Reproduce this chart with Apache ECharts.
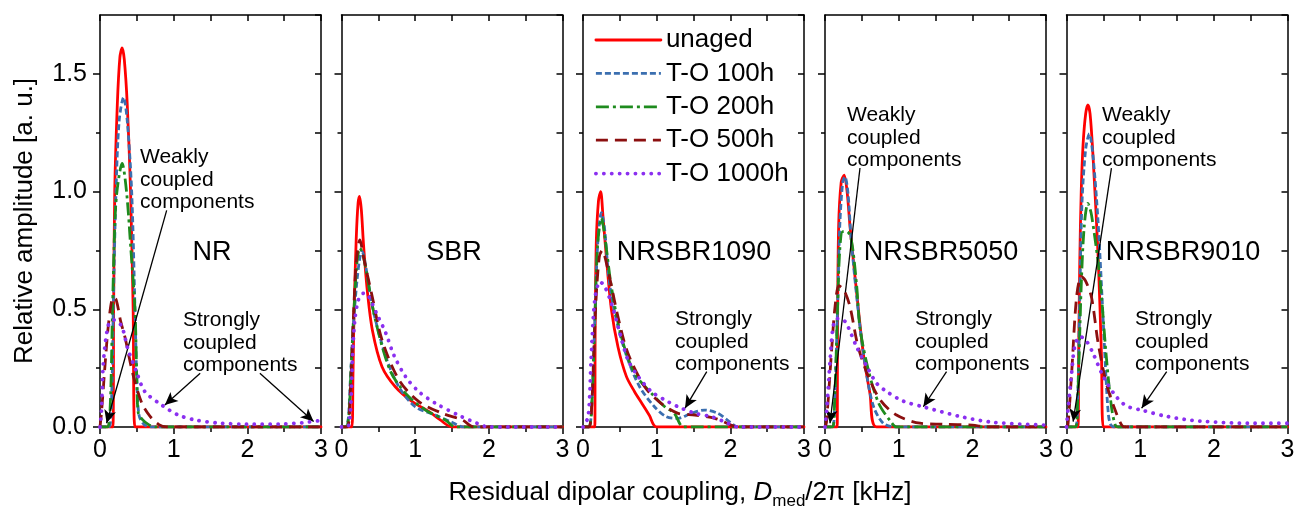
<!DOCTYPE html>
<html><head><meta charset="utf-8">
<script src="https://cdn.jsdelivr.net/npm/echarts@6/dist/echarts.min.js"></script>
<style>html,body{margin:0;padding:0;background:#fff}#c{width:1296px;height:516px}</style>
</head><body><div id="c"></div>
<script>
// ---------- data ----------
const panelNames = ['NR', 'SBR', 'NRSBR1090', 'NRSBR5050', 'NRSBR9010'];
const seriesNames = ['unaged', 'T-O 100h', 'T-O 200h', 'T-O 500h', 'T-O 1000h'];
const yLabelTicks = [0, 0.5, 1, 1.5];
const yMinorTicks = [0.25, 0.75, 1.25];

// NR
const nrUnaged = [[0,0],[0.175,0],[0.185,0.5],[0.2,1.0],[0.235,1.37],[0.27,1.57],[0.30,1.61],[0.33,1.56],[0.37,1.37],[0.415,1.0],[0.45,0.5],[0.475,0],[3,0]];
const nr100 = [[0,0],[0.12,0],[0.16,0.15],[0.18,0.5],[0.217,1.0],[0.26,1.3],[0.32,1.40],[0.37,1.3],[0.43,1.0],[0.475,0.5],[0.5,0.2],[0.53,0.05],[0.6,0.01],[0.7,0],[3,0]];
const nr200 = [[0,0],[0.1,0],[0.14,0.1],[0.17,0.5],[0.2,0.85],[0.23,1.0],[0.3,1.12],[0.36,1.0],[0.42,0.75],[0.475,0.5],[0.5,0.2],[0.52,0.06],[0.58,0.03],[0.66,0.01],[0.75,0],[3,0]];
const nr500 = [[0,0],[0.02,0.06],[0.07,0.27],[0.12,0.45],[0.18,0.55],[0.22,0.54],[0.28,0.45],[0.34,0.38],[0.45,0.22],[0.57,0.1],[0.68,0.045],[0.8,0.01],[0.9,0],[3,0]];
const nr1000 = [[0,0],[0.02,0.07],[0.045,0.27],[0.11,0.43],[0.18,0.455],[0.29,0.43],[0.38,0.33],[0.5,0.23],[0.61,0.15],[0.84,0.093],[1.06,0.051],[1.29,0.03],[1.6,0.017],[2.0,0.012],[2.5,0.013],[2.75,0.018],[3.0,0.028]];

// SBR
const sbrUnaged = [[0,0],[0.14,0],[0.155,0.2],[0.17,0.48],[0.2,0.8],[0.225,0.95],[0.245,0.98],[0.27,0.92],[0.3,0.77],[0.35,0.58],[0.42,0.41],[0.55,0.256],[0.73,0.171],[0.96,0.108],[1.19,0.065],[1.34,0.03],[1.5,0],[3,0]];
const sbr100 = [[0,0],[0.05,0],[0.09,0.03],[0.12,0.2],[0.165,0.45],[0.21,0.62],[0.25,0.72],[0.28,0.745],[0.33,0.68],[0.42,0.51],[0.6,0.3],[0.78,0.17],[1.0,0.086],[1.28,0.05],[1.5,0.02],[1.65,0],[3,0]];
const sbr200 = [[0,0],[0.06,0],[0.1,0.05],[0.13,0.25],[0.17,0.5],[0.21,0.7],[0.25,0.76],[0.3,0.72],[0.46,0.455],[0.66,0.24],[0.87,0.143],[1.14,0.072],[1.41,0.03],[1.55,0],[3,0]];
const sbr500 = [[0,0],[0.08,0],[0.12,0.15],[0.16,0.45],[0.2,0.7],[0.25,0.795],[0.3,0.72],[0.42,0.55],[0.55,0.37],[0.78,0.2],[1.05,0.108],[1.37,0.058],[1.64,0.03],[1.8,0],[3,0]];
const sbr1000 = [[0,0],[0.08,0],[0.12,0.06],[0.15,0.3],[0.18,0.45],[0.23,0.54],[0.3,0.568],[0.36,0.56],[0.48,0.48],[0.6,0.4],[0.71,0.306],[0.87,0.214],[1.05,0.15],[1.28,0.1],[1.59,0.05],[1.84,0.016],[2.0,0],[3,0]];

// NRSBR1090
const n1090Unaged = [[0,0],[0.16,0],[0.165,0.4],[0.18,0.78],[0.21,0.96],[0.24,1.0],[0.27,0.9],[0.32,0.71],[0.385,0.5],[0.475,0.34],[0.59,0.214],[0.7,0.15],[0.8,0.1],[0.9,0.05],[1.0,0],[3,0]];
const n1090_100 = [[0,0],[0.08,0],[0.12,0.1],[0.16,0.45],[0.2,0.78],[0.25,0.91],[0.29,0.85],[0.36,0.61],[0.475,0.426],[0.61,0.285],[0.77,0.17],[0.97,0.086],[1.13,0.044],[1.29,0.037],[1.47,0.058],[1.65,0.072],[1.83,0.058],[1.99,0.022],[2.1,0],[3,0]];
const n1090_200 = [[0,0],[0.08,0],[0.12,0.1],[0.16,0.45],[0.2,0.78],[0.25,0.887],[0.3,0.8],[0.385,0.596],[0.52,0.384],[0.7,0.228],[0.93,0.143],[1.11,0.086],[1.24,0.058],[1.37,0],[3,0]];
const n1090_500 = [[0,0],[0.08,0],[0.12,0.1],[0.17,0.5],[0.22,0.72],[0.26,0.75],[0.33,0.68],[0.475,0.468],[0.61,0.313],[0.84,0.17],[1.06,0.1],[1.29,0.058],[1.52,0.051],[1.79,0.037],[2.01,0.008],[2.1,0],[3,0]];
const n1090_1000 = [[0,0],[0.07,0.044],[0.11,0.285],[0.16,0.54],[0.23,0.617],[0.29,0.6],[0.385,0.526],[0.5,0.4],[0.61,0.285],[0.75,0.214],[0.93,0.15],[1.11,0.115],[1.29,0.086],[1.52,0.058],[1.74,0.044],[1.97,0.016],[2.1,0],[3,0]];

// NRSBR5050
const n5050Unaged = [[0,0],[0.165,0],[0.17,0.4],[0.185,0.85],[0.22,1.04],[0.26,1.07],[0.3,1.0],[0.34,0.85],[0.43,0.57],[0.52,0.313],[0.61,0.143],[0.7,0],[3,0]];
const n5050_100 = [[0,0],[0.1,0],[0.13,0.1],[0.17,0.5],[0.2,0.85],[0.24,1.04],[0.27,1.063],[0.31,1.0],[0.36,0.78],[0.475,0.426],[0.57,0.214],[0.66,0.086],[0.79,0.016],[0.95,0],[3,0]];
const n5050_200 = [[0,0],[0.1,0],[0.13,0.1],[0.17,0.5],[0.2,0.75],[0.24,0.83],[0.3,0.83],[0.36,0.79],[0.43,0.6],[0.475,0.42],[0.59,0.24],[0.73,0.1],[0.9,0.02],[0.97,0],[3,0]];
const n5050_500 = [[0,0],[0.02,0.02],[0.09,0.327],[0.136,0.51],[0.19,0.6],[0.26,0.58],[0.34,0.51],[0.45,0.34],[0.59,0.214],[0.75,0.115],[0.97,0.051],[1.29,0.016],[1.6,0.012],[2.0,0.008],[2.2,0],[3,0]];
const n5050_1000 = [[0,0],[0.02,0.058],[0.07,0.285],[0.11,0.426],[0.16,0.46],[0.22,0.46],[0.29,0.44],[0.43,0.34],[0.57,0.256],[0.7,0.186],[0.84,0.15],[1.06,0.11],[1.33,0.086],[1.83,0.045],[2.28,0.02],[3,0.008]];

// NRSBR9010
const n9010Unaged = [[0,0],[0.155,0],[0.165,0.3],[0.18,0.7],[0.2,1.0],[0.225,1.2],[0.26,1.33],[0.29,1.368],[0.32,1.33],[0.36,1.15],[0.43,0.72],[0.475,0.3],[0.5,0],[3,0]];
const n9010_100 = [[0,0],[0.12,0],[0.15,0.1],[0.18,0.55],[0.21,0.95],[0.26,1.18],[0.31,1.245],[0.36,1.15],[0.43,0.865],[0.5,0.44],[0.54,0.186],[0.57,0.05],[0.6,0.01],[0.65,0],[3,0]];
const n9010_200 = [[0,0],[0.12,0],[0.15,0.1],[0.2,0.6],[0.24,0.85],[0.29,0.95],[0.34,0.9],[0.45,0.64],[0.54,0.3],[0.61,0.086],[0.66,0.01],[0.7,0],[3,0]];
const n9010_500 = [[0,0],[0.02,0.01],[0.07,0.23],[0.136,0.55],[0.2,0.64],[0.26,0.62],[0.34,0.55],[0.43,0.355],[0.54,0.186],[0.66,0.072],[0.75,0.008],[0.8,0],[3,0]];
const n9010_1000 = [[0,0],[0.02,0.072],[0.07,0.23],[0.11,0.34],[0.18,0.384],[0.26,0.37],[0.36,0.313],[0.5,0.214],[0.66,0.135],[0.81,0.09],[1.04,0.07],[1.36,0.045],[1.81,0.025],[2.49,0.016],[3,0.016]];

// annotation arrows (data coordinates: from -> to)
const weakArrows = [
  { panel: 0, from: [0.905, 0.92], to: [0.09, 0.016] },
  { panel: 3, from: [0.475, 1.10], to: [0.068, 0.016] },
  { panel: 4, from: [0.61, 1.10], to: [0.09, 0.023] }
];
const strongArrows = [
  { panel: 0, from: [1.36, 0.228], to: [0.88, 0.093] },
  { panel: 0, from: [2.17, 0.228], to: [2.9, 0.023] },
  { panel: 2, from: [1.68, 0.235], to: [1.385, 0.08] },
  { panel: 3, from: [1.65, 0.235], to: [1.335, 0.086] },
  { panel: 4, from: [1.36, 0.235], to: [1.02, 0.08] }
];
const weakText = 'Weakly\ncoupled\ncomponents';
const strongText = 'Strongly\ncoupled\ncomponents';

// ---------- chart ----------
const panelData = [
  [nrUnaged, nr100, nr200, nr500, nr1000],
  [sbrUnaged, sbr100, sbr200, sbr500, sbr1000],
  [n1090Unaged, n1090_100, n1090_200, n1090_500, n1090_1000],
  [n5050Unaged, n5050_100, n5050_200, n5050_500, n5050_1000],
  [n9010Unaged, n9010_100, n9010_200, n9010_500, n9010_1000]
];
const FF = '"Liberation Sans", Arial, Helvetica, sans-serif';
const lineStyles = [
  { color: '#ff0000', width: 2.8, type: 'solid', cap: 'round' },
  { color: '#3b6fb0', width: 2.8, type: [6, 3], cap: 'butt' },
  { color: '#1e8b1e', width: 2.8, type: [13, 4, 3, 4], cap: 'butt' },
  { color: '#8b0f0f', width: 2.8, type: [12, 7], cap: 'butt' },
  { color: '#8b2ff0', width: 3.8, type: [0.1, 7.8], cap: 'round' }
];
const lefts = [100, 341.5, 583, 825, 1066.5];
const PW = 221, PT = 15, PH = 412;
const AX = { color: '#000', width: 1.5 };

const grids = [], xAxes = [], yAxes = [], series = [];
lefts.forEach((l, p) => {
  grids.push({ left: l, top: PT, width: PW, height: PH, outerBoundsMode: 'none', containLabel: false });
  xAxes.push({
    type: 'value', gridIndex: p, min: 0, max: 3, interval: 1, position: 'bottom',
    axisLine: { show: true, onZero: false, lineStyle: AX },
    axisTick: { show: true, inside: false, length: 7, lineStyle: AX },
    minorTick: { show: true, splitNumber: 2, length: 5, lineStyle: AX },
    axisLabel: { show: true, margin: 11, fontSize: 25, color: '#000', fontFamily: FF, showMinLabel: true, showMaxLabel: true },
    splitLine: { show: false }, minorSplitLine: { show: false }
  });
  xAxes.push({
    type: 'value', gridIndex: p, min: 0, max: 3, interval: 0.5, position: 'top',
    axisLine: { show: true, onZero: false, lineStyle: AX },
    axisTick: { show: true, inside: true, length: 6, lineStyle: AX },
    axisLabel: { show: false }, splitLine: { show: false }
  });
  yAxes.push({
    type: 'value', gridIndex: p, min: 0, max: 1.75, interval: 0.25, position: 'left',
    axisLine: { show: true, onZero: false, lineStyle: AX },
    axisTick: { show: true, inside: false, length: 7, lineStyle: AX, customValues: yLabelTicks },
    axisLabel: {
      show: p === 0, customValues: yLabelTicks, margin: 13, fontSize: 25, color: '#000', fontFamily: FF,
      formatter: v => (Math.abs(v * 2 - Math.round(v * 2)) < 1e-6 && v < 1.6) ? v.toFixed(1) : ''
    },
    splitLine: { show: false },
    name: p === 0 ? 'Relative amplitude [a. u.]' : '', nameLocation: 'middle', nameGap: 62,
    nameTextStyle: { fontSize: 26, color: '#000', fontFamily: FF }
  });
  yAxes.push({
    type: 'value', gridIndex: p, min: 0, max: 1.75, interval: 0.25, position: 'left',
    axisLine: { show: false },
    axisTick: { show: true, inside: false, length: 4, lineStyle: AX, customValues: yMinorTicks },
    axisLabel: { show: false }, splitLine: { show: false }
  });
  yAxes.push({
    type: 'value', gridIndex: p, min: 0, max: 1.75, interval: 0.25, position: 'right',
    axisLine: { show: true, onZero: false, lineStyle: AX },
    axisTick: { show: true, inside: true, length: 6, lineStyle: AX },
    axisLabel: { show: false }, splitLine: { show: false }
  });

  panelData[p].forEach((data, s) => {
    const ls = lineStyles[s];
    const ser = {
      type: 'line', name: seriesNames[s], data: data,
      xAxisIndex: 2 * p, yAxisIndex: 3 * p,
      symbol: 'none', showSymbol: false, smooth: 0.3, silent: true,
      lineStyle: { color: ls.color, width: ls.width, type: ls.type, cap: ls.cap, join: 'round' },
      itemStyle: { color: ls.color },
      emphasis: { disabled: true }, z: 2 + s
    };
    if (s === 4) {
      const arrows = weakArrows.concat(strongArrows).filter(a => a.panel === p);
      ser.markLine = {
        silent: true, animation: false, symbol: ['none', 'arrow'], symbolSize: [9, 13],
        label: { show: false }, emphasis: { disabled: true },
        lineStyle: { color: '#000', width: 1.3, type: 'solid' },
        data: arrows.map(a => [{ coord: a.from }, { coord: a.to }])
      };
    }
    series.push(ser);
  });
});

const txt = (t, left, top, size) => ({
  type: 'text', left: left, top: top, silent: true,
  style: { text: t, font: size + 'px ' + FF, fill: '#000', lineHeight: 22.5 }
});
const ctr = (t, x, y) => ({
  type: 'text', x: x, y: y, silent: true,
  style: { text: t, font: '27px ' + FF, fill: '#000', align: 'center', verticalAlign: 'middle' }
});

const graphics = [
  ctr(panelNames[0], 212, 253), ctr(panelNames[1], 454, 253), ctr(panelNames[2], 694, 253),
  ctr(panelNames[3], 941, 253), ctr(panelNames[4], 1183, 253),
  txt(weakText, 140, 146, 21), txt(strongText, 183, 309, 21),
  txt(strongText, 675, 308, 21),
  txt(weakText, 847, 104, 21), txt(strongText, 915, 308, 21),
  txt(weakText, 1102, 104, 21), txt(strongText, 1135, 308, 21),
  {
    type: 'text', x: 680, y: 493, silent: true,
    style: {
      text: 'Residual dipolar coupling, {i|D}{s|med}/2π [kHz]',
      font: '26px ' + FF, fill: '#000', align: 'center', verticalAlign: 'middle',
      rich: {
        i: { fontStyle: 'italic', fontSize: 26, fontFamily: FF, fill: '#000' },
        s: { fontSize: 17, fontFamily: FF, fill: '#000', verticalAlign: 'bottom', lineHeight: 17, padding: [0, 0, -4, 0] }
      }
    }
  }
];

const legendData = seriesNames.map((n, i) => ({
  name: n,
  itemStyle: { opacity: 0 },
  lineStyle: { color: lineStyles[i].color, width: lineStyles[i].width, type: lineStyles[i].type, cap: lineStyles[i].cap }
}));

const chart = echarts.init(document.getElementById('c'), null, { renderer: 'canvas' });
chart.setOption({
  animation: false,
  backgroundColor: '#fff',
  textStyle: { fontFamily: FF },
  grid: grids, xAxis: xAxes, yAxis: yAxes, series: series,
  legend: {
    data: legendData, orient: 'vertical', left: 589, top: 22,
    itemWidth: 65, itemHeight: 14, itemGap: 7.4, selectedMode: false,
    itemStyle: { opacity: 0 },
    textStyle: { fontSize: 26, color: '#000', fontFamily: FF, lineHeight: 26 }
  },
  graphic: graphics
});
</script></body></html>
